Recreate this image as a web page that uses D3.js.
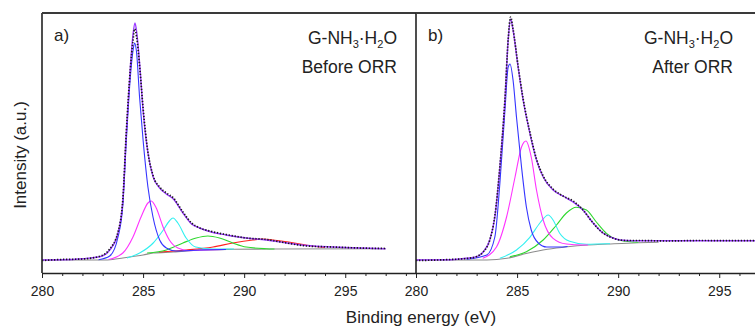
<!DOCTYPE html>
<html>
<head>
<meta charset="utf-8">
<script src="https://cdn.jsdelivr.net/npm/d3@7"></script>
<style>
  body { margin: 0; background: #fff; }
  svg { display: block; font-family: "Liberation Sans", Arial, sans-serif; }
  .axis path, .axis line { stroke: #222; }
  .axis text { font-size: 14px; fill: #222; font-family: "Liberation Sans", Arial, sans-serif; }
</style>
</head>
<body>
<div id="chart"></div>
<script>
const width = 755;
const height = 328;
const yTop = 13, yBottom = 273;

// [binding energy (eV), intensity (a.u.)]
// panel a) before ORR
const aData = [[280.0,12.5],[281.0,13.5],[282.0,14],[282.9,17],[283.35,24],[283.76,41],[284.0,74],[284.17,141],[284.37,204],[284.5,232],[284.58,244],[284.68,236],[284.85,202],[285.0,165],[285.24,121],[285.5,97],[285.82,86],[286.15,80],[286.5,75],[286.97,61],[287.4,50],[287.8,45],[288.2,42.5],[289.1,38.5],[290.1,35],[291.1,33.5],[292.1,30],[293.1,27],[294.4,26],[295.7,25],[297.0,24.5]];
const aFit = [[280.0,13],[281.0,13.2],[282.0,14.3],[282.9,16.5],[283.35,23],[283.76,40],[284.0,73],[284.17,140],[284.37,206],[284.5,238],[284.6,250],[284.7,238],[284.85,204],[285.0,163],[285.24,120],[285.5,96],[285.82,85],[286.15,79],[286.5,74],[286.97,60],[287.4,49],[287.8,45],[288.2,42],[289.1,38],[290.1,35],[291.1,33],[292.1,30],[293.1,27.5],[294.4,26],[295.7,25],[297.0,24.3]];
const aBg = [[280,13],[283.0,13],[283.5,13.5],[284.0,15],[284.5,16.5],[285.0,18],[285.5,20],[286.5,21],[287.8,23],[289.5,23.7],[291.4,24],[297.0,24.3]];
const aBlue = [[282.8,13.3],[283.35,17],[283.76,36],[284.0,68],[284.17,132],[284.37,196],[284.5,222],[284.58,230],[284.67,222],[284.83,175],[285.0,133],[285.24,86],[285.49,56],[285.82,33],[286.15,25],[286.64,22],[287.8,23],[289.1,23.5]];
const aMagenta = [[283.3,13.5],[284.0,20],[284.5,36],[284.9,56],[285.24,70],[285.4,72],[285.65,65],[285.99,46],[286.3,33],[286.72,25],[287.3,22.3],[288.1,23],[289.0,23.5]];
const aCyan = [[284.2,15],[284.83,20],[285.5,30],[286.0,43],[286.3,52],[286.48,55],[286.72,50],[287.13,35],[287.6,26],[288.46,24],[289.5,24]];
const aGreen = [[285.2,20],[286.15,23],[286.97,30],[287.63,35],[288.2,37],[288.78,35],[289.44,30],[290.1,26],[291.09,24.3],[291.5,24]];
const aRed = [[285.8,21],[287.13,23],[288.46,26],[289.44,30],[290.43,33],[290.92,34],[291.42,33],[292.2,31],[293.2,27.5],[294.0,25.5]];

// panel b) after ORR
const bData = [[280.0,12.5],[281.7,13.5],[282.5,14.5],[283.0,16.5],[283.32,21],[283.65,33],[283.9,57],[284.15,107],[284.4,174],[284.56,234],[284.68,256],[284.8,244],[285.05,207],[285.3,174],[285.63,141],[285.96,114],[286.29,97],[286.78,84],[287.27,77],[287.77,72],[288.26,63],[288.76,50],[289.25,40],[289.74,35],[290.1,33],[290.4,32.5],[291.06,32.5],[292.4,32],[294.0,32.5],[296.0,32.3],[297.0,32.3]];
const bFit = [[280.0,13],[281.7,13.3],[282.5,14.7],[283.0,16.3],[283.32,21],[283.65,33],[283.9,56],[284.15,106],[284.4,173],[284.56,233],[284.68,254],[284.8,243],[285.05,206],[285.3,173],[285.63,140],[285.96,113],[286.29,96],[286.78,83],[287.27,77],[287.77,71],[288.26,63],[288.76,50],[289.25,40],[289.74,35],[290.1,33],[290.4,32.5],[291.06,32.3],[292.4,32.3],[294.0,32.3],[296.0,32.3],[297.0,32.3]];
const bBg = [[280,13],[283.5,13],[284.5,14.7],[285.5,19.7],[286.5,23.7],[287.5,26.3],[288.5,28],[289.5,29],[291.0,30.3],[292.0,30.7]];
const bBlue = [[282.5,13.7],[283.5,18],[283.9,36],[284.15,90],[284.4,163],[284.56,206],[284.65,209],[284.8,193],[284.97,156],[285.22,106],[285.46,66],[285.7,43],[286.05,30],[286.46,26],[287.1,26],[287.5,26.5]];
const bMagenta = [[283.3,14.7],[283.98,26],[284.48,56],[284.9,96],[285.22,126],[285.44,132],[285.7,116],[285.96,83],[286.29,53],[286.78,34.7],[287.44,29],[288.26,28],[288.5,28]];
const bCyan = [[284.15,14.7],[284.97,23],[285.63,35.7],[286.13,50],[286.54,58],[286.78,53],[287.1,40],[287.6,31.7],[288.43,28.7],[289.42,29.3],[289.6,29.3]];
const bGreen = [[284.64,16.3],[285.46,21.3],[286.29,33],[286.95,48],[287.44,60],[287.93,65.7],[288.43,63],[288.92,51],[289.42,39.7],[289.91,33.7],[290.73,31],[291.0,30.8]];

const majorTicks = [280, 285, 290, 295];
const minorTicks = [281, 282, 283, 284, 286, 287, 288, 289, 291, 292, 293, 294, 296, 297, 298];

const panels = [
  {id: 'a', left: 42, right: 416, label: 'a)', note: 'Before ORR', noteX: 397,
   data: aData, fit: aFit,
   parts: [[aBg, '#8c8c8c'], [aRed, '#ff2020'], [aGreen, '#2ed82e'], [aCyan, '#33f0f0'], [aMagenta, '#ff33ff'], [aBlue, '#3535ff']]},
  {id: 'b', left: 416, right: 790, label: 'b)', note: 'After ORR', noteX: 733,
   data: bData, fit: bFit,
   parts: [[bBg, '#8c8c8c'], [bGreen, '#2ed82e'], [bCyan, '#33f0f0'], [bMagenta, '#ff33ff'], [bBlue, '#3535ff']]}
];

const svg = d3.select('#chart')
  .append('svg')
  .attr('width', width)
  .attr('height', height);

const y = d3.scaleLinear()
  .domain([0, 260])
  .range([yBottom, yTop]);

panels.forEach(p => {
  const x = d3.scaleLinear()
    .domain([280, 298.5])
    .range([p.left, p.right]);

  svg.append('clipPath')
    .attr('id', 'clip-' + p.id)
    .append('rect')
    .attr('x', p.left).attr('y', yTop)
    .attr('width', p.right - p.left).attr('height', yBottom - yTop);

  const line = d3.line()
    .x(d => x(d[0]))
    .y(d => y(d[1]))
    .curve(d3.curveMonotoneX);

  const plot = svg.append('g').attr('clip-path', 'url(#clip-' + p.id + ')');

  // fitted components
  p.parts.forEach(part => {
    plot.append('path')
      .datum(part[0])
      .attr('fill', 'none')
      .attr('stroke', part[1])
      .attr('stroke-width', 1.1)
      .attr('d', line);
  });

  // envelope of the fit
  plot.append('path')
    .datum(p.fit)
    .attr('fill', 'none')
    .attr('stroke', '#9a3cff')
    .attr('stroke-width', 1.4)
    .attr('d', line);

  // measured data, drawn as dots
  plot.append('path')
    .datum(p.data)
    .attr('fill', 'none')
    .attr('stroke', '#1a1a1a')
    .attr('stroke-width', 1.7)
    .attr('stroke-dasharray', '1.3,1.7')
    .attr('d', line);

  // x axis with minor ticks
  svg.append('g')
    .attr('class', 'axis')
    .attr('transform', 'translate(0,' + yBottom + ')')
    .call(d3.axisBottom(x).tickValues(minorTicks).tickSize(3).tickSizeOuter(0).tickFormat(''))
    .call(g => g.select('.domain').remove());

  svg.append('g')
    .attr('class', 'axis')
    .attr('transform', 'translate(0,' + yBottom + ')')
    .call(d3.axisBottom(x).tickValues(majorTicks).tickSize(5).tickSizeOuter(0).tickPadding(8))
    .call(g => g.select('.domain').attr('stroke-width', 1.5));

  // frame
  svg.append('line')
    .attr('x1', p.left).attr('x2', p.left)
    .attr('y1', yTop).attr('y2', yBottom)
    .attr('stroke', '#222').attr('stroke-width', 1.6);

  svg.append('line')
    .attr('x1', p.left).attr('x2', p.right)
    .attr('y1', yTop).attr('y2', yTop)
    .attr('stroke', '#3a3a3a').attr('stroke-width', 2);

  svg.append('text')
    .attr('x', p.left + 12)
    .attr('y', 41)
    .attr('font-size', 17)
    .attr('fill', '#222')
    .text(p.label);

  const title = svg.append('text')
    .attr('x', p.noteX)
    .attr('y', 44)
    .attr('text-anchor', 'end')
    .attr('font-size', 17.5)
    .attr('fill', '#222');
  title.append('tspan').text('G-NH');
  title.append('tspan').attr('dy', 4).attr('font-size', 11).text('3');
  title.append('tspan').attr('dy', -4).text('\u00b7H');
  title.append('tspan').attr('dy', 4).attr('font-size', 11).text('2');
  title.append('tspan').attr('dy', -4).text('O');

  svg.append('text')
    .attr('x', p.noteX)
    .attr('y', 72.5)
    .attr('text-anchor', 'end')
    .attr('font-size', 17.5)
    .attr('fill', '#222')
    .text(p.note);
});

svg.append('text')
  .attr('x', 421)
  .attr('y', 323)
  .attr('text-anchor', 'middle')
  .attr('font-size', 17)
  .attr('fill', '#222')
  .text('Binding energy (eV)');

svg.append('text')
  .attr('transform', 'translate(26,155) rotate(-90)')
  .attr('text-anchor', 'middle')
  .attr('font-size', 17)
  .attr('fill', '#222')
  .text('Intensity (a.u.)');
</script>
</body>
</html>
